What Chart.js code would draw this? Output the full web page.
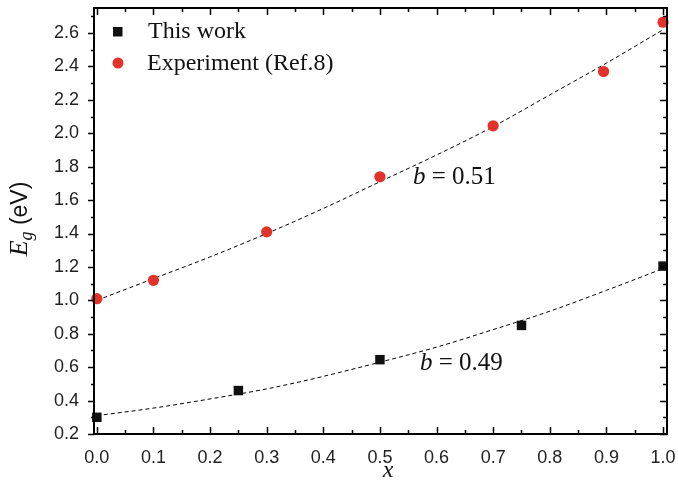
<!DOCTYPE html>
<html>
<head>
<meta charset="utf-8">
<script src="https://cdn.jsdelivr.net/npm/chart.js@4.4.1/dist/chart.umd.min.js"></script>
<style>
  body { margin: 0; background: #fff; }
  #wrap { width: 678px; height: 489px; }
</style>
</head>
<body>
<div id="wrap"><canvas id="egChart" width="678" height="489"></canvas></div>
<script>
// measured points
const workX = [0, 0.25, 0.5, 0.75, 1.0];
const workEg = [0.30, 0.46, 0.645, 0.85, 1.205];
const expX = [0, 0.1, 0.3, 0.5, 0.7, 0.895, 1.0];
const expEg = [1.01, 1.12, 1.41, 1.74, 2.045, 2.37, 2.665];

// dashed bowing fits
const fitX = [0, 0.1, 0.2, 0.3, 0.4, 0.5, 0.6, 0.7, 0.8, 0.9, 1.0];
const fitExp = [1.00, 1.13, 1.26, 1.40, 1.55, 1.71, 1.87, 2.04, 2.23, 2.42, 2.62];
const fitWork = [0.31, 0.355, 0.41, 0.47, 0.545, 0.63, 0.72, 0.825, 0.935, 1.06, 1.19];

const xTicks = [0, 0.1, 0.2, 0.3, 0.4, 0.5, 0.6, 0.7, 0.8, 0.9, 1.0];
const yTicks = [0.2, 0.4, 0.6, 0.8, 1.0, 1.2, 1.4, 1.6, 1.8, 2.0, 2.2, 2.4, 2.6];

const RED = '#e2322a';
const SERIF = '"Liberation Serif", "Times New Roman", serif';
const SANS = '"Liberation Sans", Arial, sans-serif';

function pts(xs, ys) {
  return xs.map((x, i) => ({ x: x, y: ys[i] }));
}

// no auto padding for label overhang, the layout padding does the job
function noPad(s) {
  s.paddingLeft = 0; s.paddingRight = 0;
  s.paddingTop = 0; s.paddingBottom = 0;
}

// frame, inward/outward ticks, titles, legend and b labels
const decorations = {
  id: 'decorations',
  afterDraw(chart) {
    const ctx = chart.ctx;
    const a = chart.chartArea;
    const xs = chart.scales.x;
    const ys = chart.scales.y;
    ctx.save();
    ctx.strokeStyle = '#000';

    ctx.lineWidth = 1.5;
    xTicks.forEach((v, i) => {
      const px = Math.round(xs.getPixelForValue(v)) + 0.5;
      ctx.beginPath();
      ctx.moveTo(px, a.bottom); ctx.lineTo(px, a.bottom - 7);
      ctx.moveTo(px, a.top); ctx.lineTo(px, a.top + 7);
      ctx.stroke();
      if (i < xTicks.length - 1) {
        const mx = Math.round(xs.getPixelForValue((v + xTicks[i + 1]) / 2)) + 0.5;
        ctx.beginPath();
        ctx.moveTo(mx, a.bottom); ctx.lineTo(mx, a.bottom - 4);
        ctx.moveTo(mx, a.top); ctx.lineTo(mx, a.top + 4);
        ctx.stroke();
      }
    });
    yTicks.forEach((v, i) => {
      const py = Math.round(ys.getPixelForValue(v)) + 0.5;
      ctx.beginPath();
      ctx.moveTo(a.left, py); ctx.lineTo(a.left - 6, py);
      ctx.moveTo(a.right, py); ctx.lineTo(a.right - 7, py);
      ctx.stroke();
      const next = i < yTicks.length - 1 ? yTicks[i + 1] : v + 0.2;
      const mv = (v + next) / 2;
      if (mv < ys.max) {
        const my = Math.round(ys.getPixelForValue(mv)) + 0.5;
        ctx.beginPath();
        ctx.moveTo(a.left, my); ctx.lineTo(a.left - 3, my);
        ctx.moveTo(a.right, my); ctx.lineTo(a.right - 4, my);
        ctx.stroke();
      }
    });

    ctx.lineWidth = 2;
    ctx.strokeRect(a.left, a.top, a.right - a.left, a.bottom - a.top);

    ctx.textBaseline = 'alphabetic';

    // legend
    ctx.fillStyle = '#111';
    ctx.fillRect(113, 27, 9.5, 9.5);
    ctx.fillStyle = RED;
    ctx.beginPath(); ctx.arc(118, 63, 5.5, 0, Math.PI * 2); ctx.fill();
    ctx.fillStyle = '#111';
    ctx.font = '24px ' + SERIF;
    ctx.textAlign = 'left';
    ctx.fillText('This work', 148, 38);
    ctx.fillText('Experiment (Ref.8)', 147, 70);

    // bowing labels
    function bowLabel(txt, x, y) {
      ctx.font = 'italic 25px ' + SERIF;
      ctx.fillText('b', x, y);
      const w = ctx.measureText('b').width;
      ctx.font = '25px ' + SERIF;
      ctx.fillText(' = ' + txt, x + w, y);
    }
    bowLabel('0.51', 413, 184);
    bowLabel('0.49', 420, 370);

    // x title
    ctx.font = 'italic 24px ' + SERIF;
    ctx.textAlign = 'center';
    ctx.fillText('x', 388, 477);

    // y title, rotated
    ctx.translate(27, 219);
    ctx.rotate(-Math.PI / 2);
    ctx.textAlign = 'left';
    const fE = 'italic 26px ' + SERIF;
    const fg = 'italic 18px ' + SERIF;
    const fu = '23px ' + SANS;
    ctx.font = fE; const wE = ctx.measureText('E').width;
    ctx.font = fg; const wg = ctx.measureText('g').width;
    ctx.font = fu; const wu = ctx.measureText(' (eV)').width;
    let cx = -(wE + wg + wu) / 2;
    ctx.font = fE; ctx.fillText('E', cx, 0); cx += wE;
    ctx.font = fg; ctx.fillText('g', cx, 5); cx += wg;
    ctx.font = fu; ctx.fillText(' (eV)', cx, 0);
    ctx.restore();
  }
};

new Chart(document.getElementById('egChart'), {
  type: 'scatter',
  data: {
    datasets: [
      {
        label: 'This work',
        data: pts(workX, workEg),
        pointStyle: 'rect',
        pointRadius: 6.7,
        backgroundColor: '#111',
        borderWidth: 0,
        clip: false
      },
      {
        label: 'Experiment (Ref.8)',
        data: pts(expX, expEg),
        pointStyle: 'circle',
        pointRadius: 5.6,
        backgroundColor: RED,
        borderWidth: 0,
        clip: false
      },
      {
        label: 'fit exp',
        data: pts(fitX, fitExp),
        showLine: true,
        pointRadius: 0,
        borderColor: '#000',
        borderWidth: 1,
        borderDash: [4, 3],
        cubicInterpolationMode: 'monotone'
      },
      {
        label: 'fit work',
        data: pts(fitX, fitWork),
        showLine: true,
        pointRadius: 0,
        borderColor: '#000',
        borderWidth: 1,
        borderDash: [4, 3],
        cubicInterpolationMode: 'monotone'
      }
    ]
  },
  options: {
    responsive: false,
    animation: false,
    layout: { padding: { top: 8, right: 11, left: 0, bottom: 0 } },
    plugins: {
      legend: { display: false },
      tooltip: { enabled: false }
    },
    scales: {
      x: {
        type: 'linear',
        min: -0.005,
        max: 1.007,
        afterBuildTicks: s => { s.ticks = xTicks.map(v => ({ value: v })); },
        afterFit: s => { s.height = 55; noPad(s); },
        grid: { display: false, drawTicks: false },
        border: { display: false },
        ticks: {
          padding: 13,
          maxRotation: 0,
          color: '#222',
          font: { family: SANS, size: 18 },
          callback: v => Number(v).toFixed(1)
        }
      },
      y: {
        type: 'linear',
        min: 0.2,
        max: 2.75,
        afterBuildTicks: s => { s.ticks = yTicks.map(v => ({ value: v })); },
        afterFit: s => { s.width = 94; noPad(s); },
        grid: { display: false, drawTicks: false },
        border: { display: false },
        ticks: {
          padding: 15,
          color: '#222',
          font: { family: SANS, size: 18 },
          callback: v => Number(v).toFixed(1)
        }
      }
    }
  },
  plugins: [decorations]
});
</script>
</body>
</html>
